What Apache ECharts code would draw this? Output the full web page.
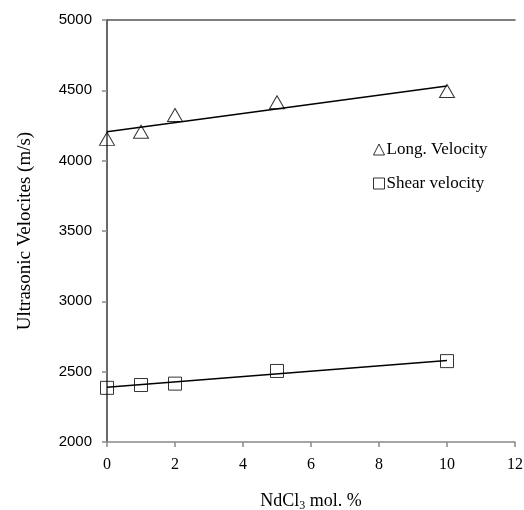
<!DOCTYPE html>
<html><head><meta charset="utf-8">
<script src="https://cdn.jsdelivr.net/npm/echarts@6/dist/echarts.min.js"></script>
<style>html,body{margin:0;padding:0;background:#fff}#c{width:524px;height:510px}</style>
</head><body><div id="c"></div>
<script>
const xValues = [0, 1, 2, 5, 10];
const longVelocity = [4155, 4205, 4325, 4415, 4495];
const shearVelocity = [2385, 2405, 2415, 2505, 2575];
const longTrend = [[0, 4205], [10, 4530]];
const shearTrend = [[0, 2390], [10, 2580]];
const yTicks = { min: 2000, max: 5000, interval: 500 };
const xTicks = { min: 0, max: 12, interval: 2 };

const serif = '"Liberation Serif", "Times New Roman", serif';
const chart = echarts.init(document.getElementById('c'), null, { renderer: 'canvas' });
const pairs = arr => xValues.map((x, i) => [x, arr[i]]);
const markerStyle = { color: 'rgba(0,0,0,0)', borderColor: '#000', borderWidth: 1 };

chart.setOption({
  animation: false,
  backgroundColor: '#fff',
  grid: { left: 107, right: 9, top: 20, bottom: 68, containLabel: false, outerBoundsMode: 'none' },
  legend: {
    orient: 'vertical', left: 368, top: 136, itemGap: 17,
    itemWidth: 11, itemHeight: 11,
    textStyle: { fontFamily: serif, fontSize: 17, color: '#000', padding: [0, 0, 0, -3] },
    data: [
      { name: 'Long. Velocity', icon: 'triangle', itemStyle: markerStyle },
      { name: 'Shear velocity', icon: 'rect', itemStyle: markerStyle }
    ]
  },
  xAxis: [{
    type: 'value', min: xTicks.min, max: xTicks.max, interval: xTicks.interval,
    name: '{a|NdCl}{s|3}{a| mol. %}', nameLocation: 'middle', nameGap: 48,
    nameTextStyle: { rich: {
      a: { fontFamily: serif, fontSize: 18, color: '#000' },
      s: { fontFamily: serif, fontSize: 12, color: '#000', padding: [10, 0, 0, 0] }
    } },
    axisLine: { show: true, onZero: false, lineStyle: { color: '#888', width: 1.5 } },
    axisTick: { show: true, length: 5, lineStyle: { color: '#888', width: 1.5 } },
    axisLabel: { fontFamily: serif, fontSize: 16, color: '#000', margin: 15 },
    splitLine: { show: false }
  }, {
    type: 'value', position: 'top', min: xTicks.min, max: xTicks.max,
    axisLine: { show: true, lineStyle: { color: '#555', width: 1.5 } },
    axisTick: { show: false }, axisLabel: { show: false }, splitLine: { show: false }
  }],
  yAxis: [{
    type: 'value', min: yTicks.min, max: yTicks.max, interval: yTicks.interval,
    name: 'Ultrasonic Velocites (m/s)', nameLocation: 'middle', nameGap: 72,
    nameTextStyle: { fontFamily: serif, fontSize: 19, color: '#000' },
    axisLine: { show: true, onZero: false, lineStyle: { color: '#888', width: 1.5 } },
    axisTick: { show: true, length: 5, lineStyle: { color: '#888', width: 1.5 } },
    axisLabel: { fontFamily: '"Liberation Sans", Arial, sans-serif', fontSize: 15, color: '#000', margin: 15,
      formatter: v => String(v) },
    splitLine: { show: false }
  }, {
    type: 'value', position: 'right', min: yTicks.min, max: yTicks.max,
    axisLine: { show: true, lineStyle: { color: '#555', width: 1.5 } },
    axisTick: { show: false }, axisLabel: { show: false }, splitLine: { show: false }
  }],
  series: [
    { name: 'longTrend', type: 'line', data: longTrend, symbol: 'none',
      lineStyle: { color: '#000', width: 1.5 }, silent: true, z: 2 },
    { name: 'shearTrend', type: 'line', data: shearTrend, symbol: 'none',
      lineStyle: { color: '#000', width: 1.5 }, silent: true, z: 2 },
    { name: 'Long. Velocity', type: 'scatter', data: pairs(longVelocity), symbol: 'triangle',
      symbolSize: [15, 13], itemStyle: markerStyle, clip: false, z: 3 },
    { name: 'Shear velocity', type: 'scatter', data: pairs(shearVelocity), symbol: 'rect',
      symbolSize: 13, itemStyle: markerStyle, clip: false, z: 3 }
  ]
});
</script>
</body></html>
